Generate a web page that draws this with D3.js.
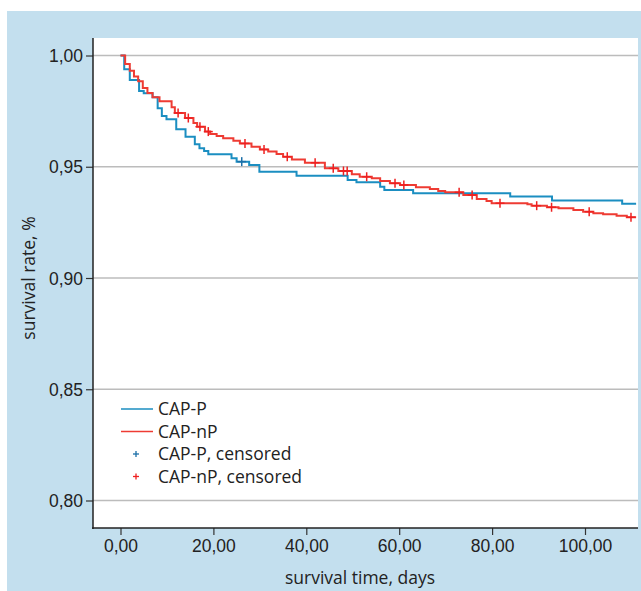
<!DOCTYPE html>
<html>
<head>
<meta charset="utf-8">
<script src="https://cdn.jsdelivr.net/npm/d3@7"></script>
<style>
  body { margin: 0; background: #fff; }
  svg { display: block; font-family: "Open Sans", sans-serif; }
</style>
</head>
<body>
<svg id="chart" width="641" height="591"></svg>
<script>
// step times (days) and survival after each step
const blueTimes = [0, 0.8, 2.0, 4.0, 5.0, 6.9, 8.0, 8.9, 9.9, 12.0, 14.0, 16.0, 17.0, 18.0, 18.9, 23.9, 25.0, 27.7, 29.9, 37.9, 48.9, 50.8, 55.9, 56.8, 63.0, 83.9, 92.9, 108.0];
const blueSurv = [1.000, 0.9938, 0.9890, 0.9840, 0.9830, 0.9812, 0.9763, 0.9728, 0.9713, 0.9668, 0.9635, 0.9601, 0.9583, 0.9571, 0.9556, 0.9538, 0.9523, 0.9508, 0.9478, 0.9460, 0.9440, 0.9430, 0.9410, 0.9396, 0.9381, 0.9366, 0.9348, 0.9334];
const blueCensored = [26.1];

const redTimes = [0, 1.0, 2.0, 2.9, 3.8, 4.8, 5.8, 6.9, 8.4, 11.0, 11.7, 13.9, 15.7, 16.5, 18.2, 19.3, 20.7, 22.1, 24.3, 25.7, 28.2, 30.0, 31.8, 33.6, 35.0, 36.9, 39.7, 44.0, 46.9, 49.8, 51.5, 54.1, 55.9, 58.0, 60.2, 63.6, 66.6, 68.4, 69.9, 73.8, 76.7, 78.8, 79.9, 87.6, 88.5, 91.8, 94.3, 97.5, 99.6, 101.8, 103.9, 106.8, 109.0];
const redSurv = [1.000, 0.9962, 0.9932, 0.9906, 0.9884, 0.9854, 0.9831, 0.9812, 0.9794, 0.9767, 0.9742, 0.9719, 0.9697, 0.9680, 0.9658, 0.9647, 0.9638, 0.9628, 0.9617, 0.9605, 0.9590, 0.9578, 0.9568, 0.9557, 0.9545, 0.9533, 0.9518, 0.9493, 0.9481, 0.9466, 0.9455, 0.9448, 0.9436, 0.9426, 0.9418, 0.9408, 0.9400, 0.9391, 0.9385, 0.9373, 0.9355, 0.9346, 0.9336, 0.9331, 0.9325, 0.9318, 0.9313, 0.9306, 0.9298, 0.9291, 0.9286, 0.9280, 0.9273];
const redCensored = [12.4, 14.6, 17.1, 18.9, 26.8, 30.9, 35.9, 41.9, 45.8, 48.0, 48.8, 53.0, 59.1, 61.0, 72.9, 75.7, 81.7, 89.6, 92.8, 100.9, 109.9];

const followUpEnd = 111.0;
const xTicks = [0, 20, 40, 60, 80, 100];
const yTicks = [0.80, 0.85, 0.90, 0.95, 1.00];
const legendItems = [
    { label: "CAP-P", color: "#1b8ec1", kind: "line" },
    { label: "CAP-nP", color: "#ee3b33", kind: "line" },
    { label: "CAP-P, censored", color: "#1b6fa8", kind: "plus" },
    { label: "CAP-nP, censored", color: "#ee2020", kind: "plus" }
];

const fontSize = "17.5px";
const textColor = "#222";

const svg = d3.select("#chart");
const plot = { left: 93, right: 638, top: 38, bottom: 528 };

const x = d3.scaleLinear().domain([0, 100]).range([120.5, 585]);
const y = d3.scaleLinear().domain([0.80, 1.00]).range([500.5, 55.5]);

// blue frame + white panel
svg.append("rect").attr("x", 7).attr("y", 11).attr("width", 634).attr("height", 580).attr("fill", "#c3dfee");
svg.append("rect").attr("x", plot.left).attr("y", plot.top)
    .attr("width", plot.right - plot.left).attr("height", plot.bottom - plot.top).attr("fill", "#fff");

// grid
svg.append("g").selectAll("line").data(yTicks).enter().append("line")
    .attr("x1", plot.left).attr("x2", plot.right)
    .attr("y1", d => y(d)).attr("y2", d => y(d))
    .attr("stroke", "#bcbcbc").attr("stroke-width", 1.5);

const fmt = d => d.toFixed(2).replace(".", ",");

// axes
const yAxis = svg.append("g").attr("transform", `translate(${plot.left},0)`)
    .call(d3.axisLeft(y).tickValues(yTicks).tickFormat(fmt).tickSize(7).tickSizeOuter(0));
const xAxis = svg.append("g").attr("transform", `translate(0,${plot.bottom})`)
    .call(d3.axisBottom(x).tickValues(xTicks).tickFormat(fmt).tickSize(7).tickSizeOuter(0));

[yAxis, xAxis].forEach(a => {
    a.select(".domain").remove();
    a.selectAll(".tick line").attr("stroke", "#333").attr("stroke-width", 1.2);
    a.selectAll(".tick text").attr("fill", textColor).style("font-size", fontSize);
});
yAxis.selectAll(".tick text").attr("x", -10).attr("dy", "0.35em");
xAxis.selectAll(".tick text").attr("y", 12);

svg.append("line").attr("x1", plot.left).attr("x2", plot.left).attr("y1", plot.top).attr("y2", plot.bottom + 1)
    .attr("stroke", "#222").attr("stroke-width", 1.5);
svg.append("line").attr("x1", plot.left - 1).attr("x2", plot.right).attr("y1", plot.bottom).attr("y2", plot.bottom)
    .attr("stroke", "#222").attr("stroke-width", 1.5);

// axis titles
svg.append("text").attr("x", 360).attr("y", 584).attr("text-anchor", "middle")
    .attr("fill", textColor).style("font-size", fontSize).text("survival time, days");
svg.append("text").attr("transform", "translate(35,278) rotate(-90)").attr("text-anchor", "middle")
    .attr("fill", textColor).style("font-size", fontSize).text("survival rate, %");

// KM curves
function stepPoints(times, surv) {
    const pts = times.map((t, i) => [t, surv[i]]);
    pts.push([followUpEnd, surv[surv.length - 1]]);
    return pts;
}
function survAt(times, surv, t) {
    const i = d3.bisectRight(times, t) - 1;
    return surv[Math.max(0, i)];
}
const line = d3.line().x(d => x(d[0])).y(d => y(d[1])).curve(d3.curveStepAfter);

const series = [
    { times: blueTimes, surv: blueSurv, cens: blueCensored, color: "#1b8ec1", mark: "#1b6fa8" },
    { times: redTimes, surv: redSurv, cens: redCensored, color: "#ee3b33", mark: "#ee2020" }
];

series.forEach(s => {
    svg.append("path").datum(stepPoints(s.times, s.surv))
        .attr("fill", "none").attr("stroke", s.color).attr("stroke-width", 2).attr("d", line);
});
series.forEach(s => {
    const g = svg.append("g").attr("stroke", s.mark).attr("stroke-width", 1.5);
    s.cens.forEach(t => {
        const cx = x(t), cy = y(survAt(s.times, s.surv, t));
        g.append("line").attr("x1", cx - 4.5).attr("x2", cx + 4.5).attr("y1", cy).attr("y2", cy);
        g.append("line").attr("x1", cx).attr("x2", cx).attr("y1", cy - 4.5).attr("y2", cy + 4.5);
    });
});

// legend
const legend = svg.append("g").attr("transform", "translate(121,409)");
legendItems.forEach((d, i) => {
    const row = legend.append("g").attr("transform", `translate(0,${i * 22.5})`);
    if (d.kind === "line") {
        row.append("line").attr("x1", 0).attr("x2", 32).attr("y1", 0).attr("y2", 0)
            .attr("stroke", d.color).attr("stroke-width", 1.5);
    } else {
        row.append("line").attr("x1", 12).attr("x2", 18).attr("y1", 0).attr("y2", 0).attr("stroke", d.color).attr("stroke-width", 1.3);
        row.append("line").attr("x1", 15).attr("x2", 15).attr("y1", -3).attr("y2", 3).attr("stroke", d.color).attr("stroke-width", 1.3);
    }
    row.append("text").attr("x", 37).attr("dy", "0.35em").attr("fill", textColor)
        .style("font-size", fontSize).text(d.label);
});
</script>
</body>
</html>
